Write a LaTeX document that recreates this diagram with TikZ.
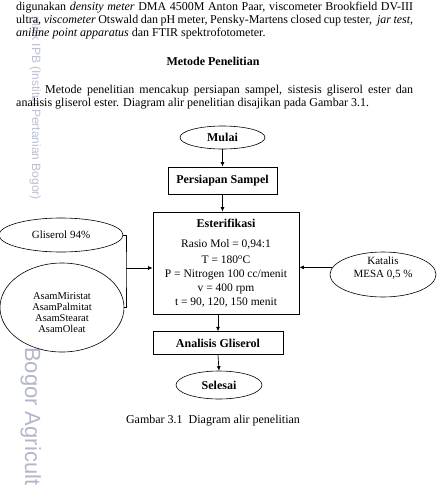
\documentclass[tikz,border=0pt]{standalone}
\usepackage{fontspec}
\setmainfont{Liberation Serif}
\newfontfamily\wmfont{Liberation Sans}
\usetikzlibrary{shapes.geometric,arrows.meta}
\definecolor{wmA}{RGB}{188,192,210}
\definecolor{wmB}{RGB}{178,183,203}
\tikzset{
  boxnode/.style={draw, line width=0.8pt, rectangle, inner sep=0pt, font=\fontsize{12}{14}\selectfont\bfseries},
  ovalnode/.style={draw, line width=0.6pt, ellipse, inner sep=0pt},
  arr/.style={-{Latex[length=4.5pt,width=4pt]}, line width=0.7pt},
  ln/.style={line width=0.7pt},
  bodytext/.style={anchor=base west, inner sep=0pt, font=\fontsize{12}{14}\selectfont},
}
\begin{document}
\begin{tikzpicture}[x=1pt,y=-1pt]
\useasboundingbox[fill=white] (0,0) rectangle (437,488);
% watermark
\node[rotate=-90, anchor=base east, inner sep=0pt, text=wmA, font=\wmfont\fontsize{12}{14}\selectfont] (wm1) at (32,200) {milik IPB (Institut Pertanian Bogor)};
\node[rotate=-90, anchor=base west, inner sep=0pt, text=wmB, font=\wmfont\fontsize{22}{26}\selectfont] (wm2) at (25,347) {Bogor Agricult};
% body text
\node[bodytext] (l1) at (16,10) {\makebox[397pt][s]{digunakan \textit{density meter} DMA 4500M Anton Paar, viscometer Brookfield DV-III}};
\node[bodytext] (l2) at (16,23.3) {\makebox[397pt][s]{ultra, \textit{viscometer} Otswald dan pH meter, Pensky-Martens closed cup tester,\ \ \textit{jar test,}}};
\node[bodytext] (l3) at (16,36.6) {\textit{aniline point apparatus} dan FTIR spektrofotometer.};
\node[anchor=base, inner sep=0pt, font=\fontsize{12}{14}\selectfont\bfseries] (head) at (213,65) {Metode Penelitian};
\node[bodytext] (p1) at (45,93) {\makebox[368pt][s]{Metode penelitian mencakup persiapan sampel, sistesis gliserol ester dan}};
\node[bodytext] (p2) at (16,106.3) {analisis gliserol ester. Diagram alir penelitian disajikan pada Gambar 3.1.};
% flowchart
\node[ovalnode, fill=white, minimum width=85pt, minimum height=23pt, font=\fontsize{12}{14}\selectfont\bfseries] (mulai) at (222.5,137.5) {Mulai};
\node[boxnode, minimum width=109pt, minimum height=27pt] (persiapan) at (222.5,180.5) {Persiapan Sampel};
\node[boxnode, minimum width=146pt, minimum height=102pt, align=center, font=\fontsize{11.5}{13.8}\selectfont] (ester) at (226,263)
  {{\fontsize{12}{14}\selectfont\bfseries Esterifikasi}\\[6pt]
   Rasio Mol = 0,94:1\\[3pt]
   T = 180\textsuperscript{o}C\\
   P = Nitrogen 100 cc/menit\\
   v = 400 rpm\\
   t = 90, 120, 150 menit};
\node[boxnode, minimum width=130pt, minimum height=22.5pt] (analisis) at (218,343) {Analisis Gliserol};
\node[ovalnode, fill=white, minimum width=86pt, minimum height=28pt, font=\fontsize{12}{14}\selectfont\bfseries] (selesai) at (219,385) {Selesai};
\node[ovalnode, minimum width=124pt, minimum height=34pt, font=\fontsize{11}{13}\selectfont] (glis) at (61,235) {Gliserol 94\%};
\node[ovalnode, minimum width=124pt, minimum height=89pt] (asam) at (62,307.5) {};
\node[align=center, inner sep=0pt, font=\fontsize{10.5}{11}\selectfont] (asamt) at (62,312.5) {AsamMiristat\\AsamPalmitat\\AsamStearat\\AsamOleat};
\node[ovalnode, minimum width=106pt, minimum height=45pt] (kat) at (383,274.5) {};
\node[align=center, inner sep=0pt, font=\fontsize{11}{12.5}\selectfont] (katt) at (383,268) {Katalis\\MESA 0,5 \%};
\coordinate (jx) at (126,268);
% connectors
\draw[arr] (mulai.south) -- (persiapan.north);
\draw[arr] (persiapan.south) -- (persiapan.south |- ester.north);
\draw[arr] (analisis.north |- ester.south) -- (analisis.north);
\draw[arr] (analisis.south) -- (selesai.north);
\draw[ln] (glis.east) -| (jx) |- (asam.east);
\draw[arr] (jx) -- (jx -| ester.west);
\draw[arr] (kat.172) -- (kat.172 -| ester.east);
% caption
\node[anchor=base, inner sep=0pt, font=\fontsize{12}{14}\selectfont] (cap) at (213,423) {Gambar 3.1\ \ Diagram alir penelitian};
\end{tikzpicture}
\end{document}
